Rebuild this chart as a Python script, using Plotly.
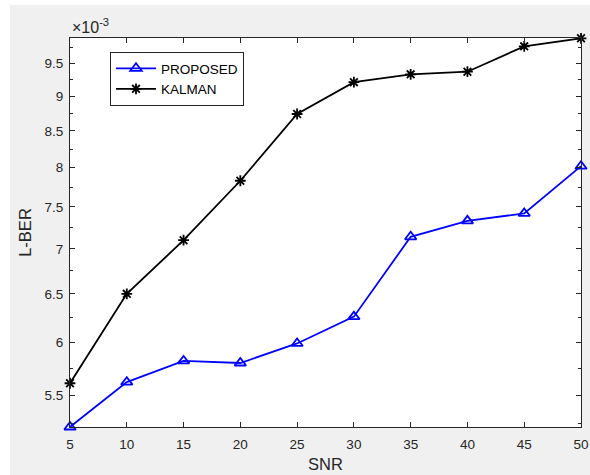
import math
import plotly.graph_objects as go

# Data (L-BER values in units of 1e-3)
snr = [5, 10, 15, 20, 25, 30, 35, 40, 45, 50]
proposed = [5.22, 5.62, 5.82, 5.80, 5.99, 6.26, 7.14, 7.33, 7.42, 8.02]
kalman = [5.61, 6.50, 7.10, 7.83, 8.74, 9.21, 9.33, 9.37, 9.77, 9.90]
ytick_vals = [5.5, 6, 6.5, 7, 7.5, 8, 8.5, 9, 9.5]
ytick_text = ["5.5", "6", "6.5", "7", "7.5", "8", "8.5", "9", "9.5"]
yminor_vals = [5.25, 5.75, 6.25, 6.75, 7.25, 7.75, 8.25, 8.75, 9.25, 9.75]
xtick_vals = [5, 10, 15, 20, 25, 30, 35, 40, 45, 50]

W, H = 590, 475
L, R, T, B = 70, 9, 38, 48
pw, ph = W - L - R, H - T - B
axc = "#262626"
FONT = "Liberation Sans, Arial, sans-serif"

fig = go.Figure()
fig.add_trace(go.Scatter(
    x=snr, y=proposed, name="PROPOSED", mode="lines+markers",
    line=dict(color="#0000ff", width=1.8),
    marker=dict(symbol="triangle-up-open", size=10, color="#0000ff",
                line=dict(width=1.8, color="#0000ff")),
    cliponaxis=False))
fig.add_trace(go.Scatter(
    x=snr, y=kalman, name="KALMAN", mode="lines+markers",
    line=dict(color="#000000", width=1.8),
    marker=dict(symbol="asterisk-open", size=9, color="#000000",
                line=dict(width=1.8, color="#000000")),
    cliponaxis=False))

ymin, ymax = 5.22, 9.905

fig.update_layout(
    width=W, height=H,
    margin=dict(l=L, r=R, t=T, b=B, pad=0, autoexpand=False),
    paper_bgcolor="#f0f0f0", plot_bgcolor="#ffffff",
    font=dict(family=FONT, size=13.5, color=axc),
    showlegend=True,
    legend=dict(x=(110 - L) / pw, y=(H - B - 52) / ph, xanchor="left", yanchor="top",
                bgcolor="#ffffff", bordercolor=axc, borderwidth=1,
                font=dict(family=FONT, size=13.5, color="#000000"),
                tracegroupgap=0, itemwidth=40),
    xaxis=dict(range=[5, 50], tickvals=xtick_vals, ticks="inside", ticklen=5,
               tickcolor=axc, showline=True, linecolor=axc, linewidth=1,
               mirror="ticks", showgrid=False, zeroline=False, automargin=False,
               ticklabelstandoff=5,
               tickfont=dict(size=13.5, color=axc),
               title=dict(text="SNR", font=dict(size=16.5, color=axc), standoff=7)),
    yaxis=dict(type="log", range=[math.log10(ymin), math.log10(ymax)],
               tickvals=ytick_vals, ticktext=ytick_text, ticks="inside", ticklen=5,
               tickcolor=axc, showline=True, linecolor=axc, linewidth=1,
               mirror="ticks", showgrid=False, zeroline=False, automargin=False,
               ticklabelstandoff=3,
               tickfont=dict(size=13.5, color=axc),
               minor=dict(tickvals=yminor_vals, ticks="inside", ticklen=3, tickcolor=axc,
                          showgrid=False),
               title=dict(text="L-BER", font=dict(size=16.5, color=axc), standoff=8)),
    shapes=[
        dict(type="rect", xref="paper", yref="paper", layer="below",
             x0=-L / pw, x1=-(L - 10) / pw, y0=-B / ph, y1=(H - B) / ph,
             fillcolor="#ffffff", line=dict(width=0)),
        dict(type="rect", xref="paper", yref="paper", layer="below",
             x0=-L / pw, x1=(W - L) / pw, y0=(H - B - 5) / ph, y1=(H - B) / ph,
             fillcolor="#ffffff", line=dict(width=0)),
    ],
    annotations=[dict(text="×10<sup>-3</sup>", xref="paper", yref="paper",
                      x=0, y=1, xanchor="left", yanchor="bottom", yshift=0,
                      showarrow=False, font=dict(size=16, color=axc))],
)

fig.write_html("out.html")
